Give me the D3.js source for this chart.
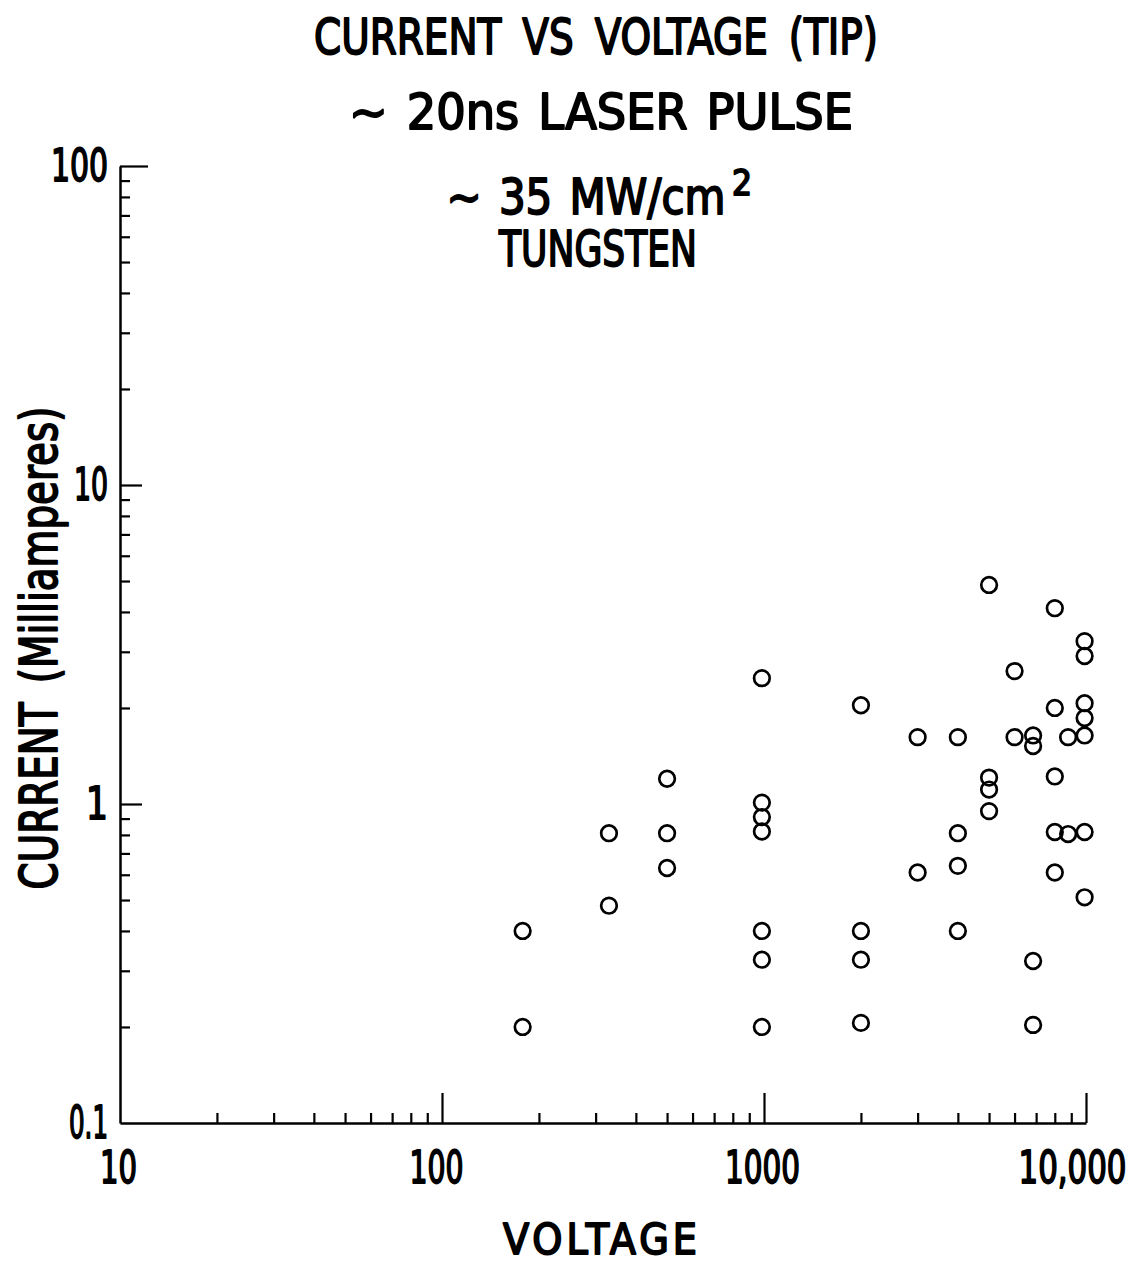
<!DOCTYPE html>
<html>
<head>
<meta charset="utf-8">
<script src="https://cdn.jsdelivr.net/npm/d3@7"></script>
<style>
  html, body { margin: 0; padding: 0; background: #fff; }
  svg { display: block; }
  text { font-family: "Liberation Sans Narrow", "DejaVu Sans Condensed", sans-serif; font-weight: normal;
         fill: #000; stroke: #000; stroke-width: 1.8px; stroke-linejoin: round; }
</style>
</head>
<body>
<svg id="chart" width="1138" height="1263"></svg>
<script>
// ---- data (voltage in V, current in mA) ----
const voltage = [
  178, 178,
  330, 330,
  500, 500, 500,
  985, 985, 985, 985, 985, 985, 985,
  2000, 2000, 2000, 2000,
  3000, 3000,
  4000, 4000, 4000, 4000,
  5000, 5000, 5000, 5000,
  6000, 6000,
  6850, 6850, 6850, 6850,
  8000, 8000, 8000, 8000, 8000,
  8800, 8800,
  9900, 9900, 9900, 9900, 9900, 9900, 9900
];
const current = [
  0.40, 0.20,
  0.81, 0.48,
  1.20, 0.81, 0.63,
  2.48, 1.01, 0.91, 0.82, 0.40, 0.325, 0.20,
  2.04, 0.40, 0.325, 0.206,
  1.62, 0.61,
  1.62, 0.81, 0.64, 0.40,
  4.86, 1.21, 1.11, 0.95,
  2.61, 1.62,
  1.64, 1.52, 0.322, 0.203,
  4.11, 2.00, 1.22, 0.817, 0.61,
  1.62, 0.805,
  3.24, 2.91, 2.07, 1.86, 1.64, 0.817, 0.51
];
const xMajorTicks = [10, 100, 1000, 10000];
const xTickLabels = ["10", "100", "1000", "10,000"];
const yMajorTicks = [0.1, 1, 10, 100];
const yTickLabels = ["0.1", "1", "10", "100"];
const titleLines = ["CURRENT VS VOLTAGE (TIP)", "\u223C 20ns LASER PULSE", "\u223C 35 MW/cm", "TUNGSTEN"];
const titleSup = "2";
const xLabel = "VOLTAGE";
const yLabel = "CURRENT (Milliamperes)";

const svg = d3.select("#chart");
const x = d3.scaleLog().domain([10, 10000]).range([120, 1086]);
const y = d3.scaleLog().domain([0.1, 100]).range([1123, 166]);

function minorsOf(domain) {
  const out = [];
  for (let d = domain[0]; d < domain[1]; d *= 10)
    for (let k = 2; k <= 9; k++) out.push(d * k);
  return out;
}
function styleAxis(g) {
  g.select(".domain").attr("stroke", "#000").attr("stroke-width", 2.5);
  g.selectAll(".tick line").attr("stroke", "#000").attr("stroke-width", 2.2);
}
// horizontal squeeze so a text spans `w` px (ink width measured by the browser)
function squeeze(node, w) {
  const nat = node.getComputedTextLength();
  return nat > 0 ? w / nat : 1;
}

// ---- Y axis ----
svg.append("g").attr("transform", "translate(120,0)")
  .call(d3.axisLeft(y).tickValues(minorsOf(y.domain())).tickSize(-10).tickSizeOuter(0).tickFormat(""))
  .call(styleAxis);
svg.append("g").attr("transform", "translate(120,0)")
  .call(d3.axisLeft(y).tickValues([1, 10]).tickSize(-22).tickSizeOuter(0).tickFormat(""))
  .call(g => g.select(".domain").remove()).call(styleAxis);
svg.append("g").attr("transform", "translate(120,0)")
  .call(d3.axisLeft(y).tickValues([100]).tickSize(-28).tickSizeOuter(0).tickFormat(""))
  .call(g => g.select(".domain").remove()).call(styleAxis);
const yLabAxis = svg.append("g").attr("transform", "translate(120,0)")
  .call(d3.axisLeft(y).tickValues(yMajorTicks).tickSize(0).tickPadding(0)
    .tickFormat((d, i) => yTickLabels[i]));
yLabAxis.select(".domain").remove();
const yLabWidths = [39, 12, 34, 57];
yLabAxis.selectAll(".tick text")
  .attr("font-size", 45).attr("font-family", null).attr("x", 0)
  .each(function(d, i) {
    const sx = i === 1 ? 0.85 : squeeze(this, yLabWidths[i]);
    d3.select(this).attr("transform", `translate(-12,0) scale(${sx},1)`);
  });

// ---- X axis ----
svg.append("g").attr("transform", "translate(0,1123)")
  .call(d3.axisBottom(x).tickValues(minorsOf(x.domain())).tickSize(-10).tickSizeOuter(0).tickFormat(""))
  .call(styleAxis);
svg.append("g").attr("transform", "translate(0,1123)")
  .call(d3.axisBottom(x).tickValues([100, 1000, 10000]).tickSize(-30).tickSizeOuter(0).tickFormat(""))
  .call(g => g.select(".domain").remove()).call(styleAxis);
const xLabAxis = svg.append("g").attr("transform", "translate(0,1123)")
  .call(d3.axisBottom(x).tickValues(xMajorTicks).tickSize(0).tickPadding(28)
    .tickFormat((d, i) => xTickLabels[i]));
xLabAxis.select(".domain").remove();
const xLabWidths = [37, 54, 75, 108];
const xLabShift = [-2, -6, -2, -14];
xLabAxis.selectAll(".tick text")
  .attr("font-size", 45).attr("font-family", null)
  .each(function(d, i) {
    const sx = squeeze(this, xLabWidths[i]);
    d3.select(this).attr("transform", `translate(${xLabShift[i]},0) scale(${sx},1)`);
  });

// ---- points ----
const pts = voltage.map((v, i) => ({ v, c: current[i] }));
svg.append("g").selectAll("circle").data(pts).join("circle")
  .attr("cx", d => x(d.v)).attr("cy", d => y(d.c)).attr("r", 7.8)
  .attr("fill", "none").attr("stroke", "#000").attr("stroke-width", 2.7);

// ---- titles ----
const titleSpec = [
  { cx: 596, base: 54, w: 564, fs: 50, ws: 10 },
  { cx: 601, base: 129, w: 504, fs: 49, ws: 4 },
  { cx: 586, base: 214, w: 279, fs: 49, ws: 4 },
  { cx: 598, base: 266, w: 198, fs: 49, ws: 0 }
];
function placeText(str, cx, base, w, fs, ws, rot) {
  const t = svg.append("text").attr("x", 0).attr("y", 0).attr("text-anchor", "middle")
    .attr("font-size", fs).attr("word-spacing", ws).text(str);
  const sx = squeeze(t.node(), w);
  t.attr("transform", `translate(${cx},${base})${rot ? " rotate(-90)" : ""} scale(${sx},1)`);
  return t;
}
titleLines.forEach((t, i) => {
  const s = titleSpec[i];
  placeText(t, s.cx, s.base, s.w, s.fs, s.ws, false);
});
placeText(titleSup, 742, 195, 20, 35, 0, false);

// ---- axis titles ----
const vt = svg.append("text").attr("x", 600).attr("y", 1253.5).attr("text-anchor", "middle")
  .attr("font-size", 42.5).attr("letter-spacing", 0).text(xLabel);
{
  const nat = vt.node().getComputedTextLength();
  vt.attr("letter-spacing", (194 - nat) / (xLabel.length - 1)).attr("dx", ((194 - nat) / (xLabel.length - 1)) / 2);
}
placeText(yLabel, 57, 648, 483, 51, 8, true);
</script>
</body>
</html>
